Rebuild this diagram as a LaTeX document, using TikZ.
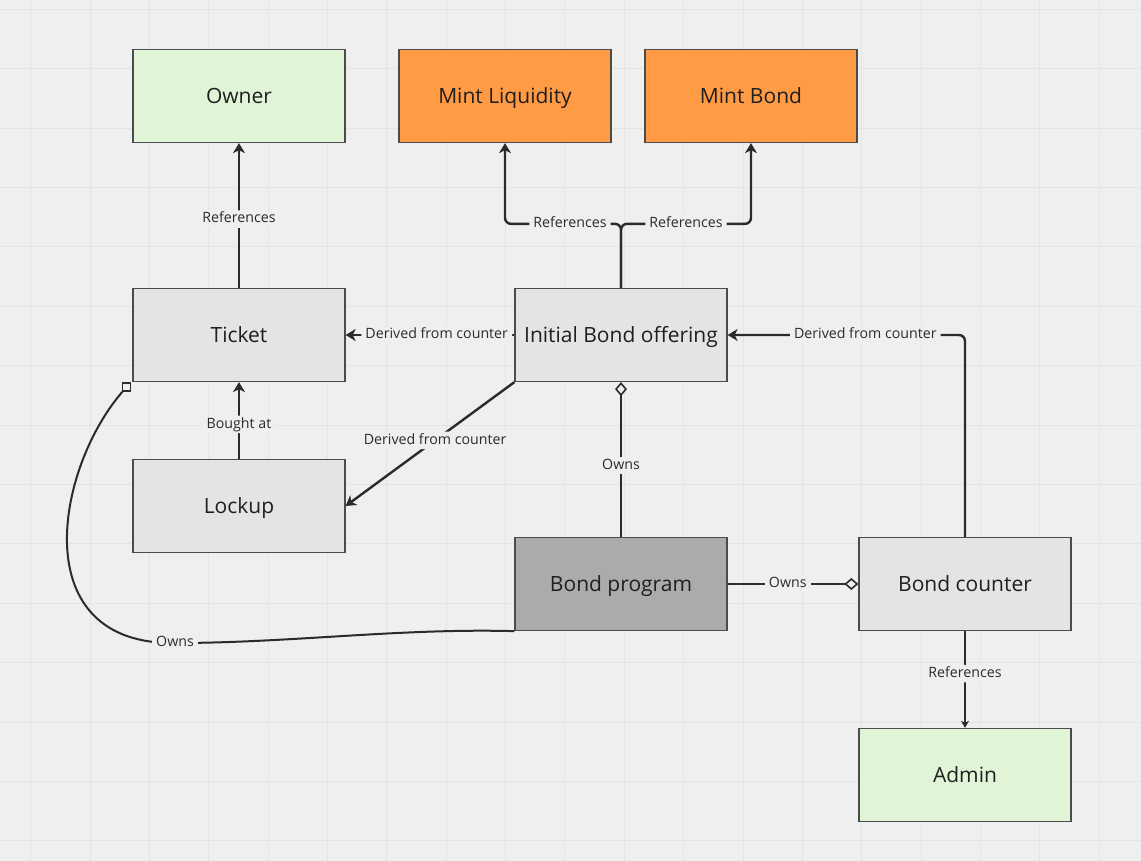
\documentclass[tikz,border=0pt]{standalone}
\usepackage{fontspec}
\setmainfont{Open Sans}
\usetikzlibrary{positioning}
\usetikzlibrary{arrows.meta}
\definecolor{bgcol}{HTML}{EFEFEF}
\definecolor{gridcol}{HTML}{E4E4E4}
\definecolor{linecol}{HTML}{2B2B2B}
\definecolor{boxgray}{HTML}{E5E3E4}
\definecolor{boxdark}{HTML}{ABABAB}
\definecolor{boxgreen}{HTML}{E0F5D8}
\definecolor{boxorange}{HTML}{FF9A45}
\tikzset{
box/.style={ % Entity boxes
draw=linecol!85,
line width=1.3pt,
minimum width=212pt,
minimum height=93pt,
text height=18pt, text depth=3.5pt,
font=\fontsize{21}{25}\selectfont,
text=black!88},
lbl/.style={ % Labels sitting on a connector
fill=bgcol,
inner xsep=4pt, inner ysep=2pt,
text height=10.5pt, text depth=3pt,
font=\fontsize{14.2}{17}\selectfont,
text=linecol},
ref/.style={ % Directed links with bold arrowheads
draw=linecol,
line width=2.4pt,
rounded corners=6pt,
-{Stealth[length=10pt,width=12pt,inset=3pt]}},
owns/.style={ % Ownership links end in an open diamond
draw=linecol,
line width=2.4pt,
-{Diamond[open,length=14pt,width=12pt,line width=1.6pt]}},
sqmark/.style={draw=linecol, fill=bgcol, line width=1.4pt,
minimum size=8pt, inner sep=0pt}
}

\begin{document}
\begin{tikzpicture}[x=1pt, y=-1pt]
    \useasboundingbox (0,0) rectangle (1141,861);
    \fill[bgcol] (0,0) rectangle (1141,861);
    \foreach \gx in {0,...,18}
      \draw[gridcol, line width=1pt] ({30.7+59.36*\gx},0) -- ++(0,861);
    \foreach \gy in {0,...,14}
      \draw[gridcol, line width=1pt] (0,{9.3+59.4*\gy}) -- ++(1141,0);

    \node[box, fill=boxgray] (ticket) at (239,335) {Ticket};
    \node[box, fill=boxgreen, above=144.7pt of ticket] (owner) {Owner};
    \node[box, fill=boxorange, right=52.7pt of owner] (mintliq) {Mint Liquidity};
    \node[box, fill=boxorange, right=32.7pt of mintliq] (mintbond) {Mint Bond};
    \node[box, fill=boxgray, below=76.7pt of ticket] (lockup) {Lockup};
    \node[box, fill=boxgray, right=168.7pt of ticket] (ibo) {Initial Bond offering};
    \node[box, fill=boxdark, below=154.7pt of ibo] (bprog) {Bond program};
    \node[box, fill=boxgray, right=130.7pt of bprog] (bcounter) {Bond counter};
    \node[box, fill=boxgreen, below=96.7pt of bcounter] (admin) {Admin};
    \node[sqmark, xshift=-6pt, yshift=-5pt] (tkmark) at (ticket.south west) {};

    \draw[ref] (ticket) -- node[lbl, pos=0.475] {References} (owner);
    \draw[ref] (ibo.north) -- ++(0,-64) -| node[lbl, pos=0.22] {References} (mintliq.south);
    \draw[ref] (ibo.north) -- ++(0,-64) -| node[lbl, pos=0.25] {References} (mintbond.south);
    \draw[ref] (ibo.west) -- node[lbl, pos=0.46] {Derived from counter} (ticket.east);
    \draw[ref] (ibo.south west) -- node[lbl, pos=0.47] {Derived from counter} (lockup.east);
    \draw[ref] (bcounter.north) |- node[lbl, pos=0.71] {Derived from counter} (ibo.east);
    \draw[ref] (lockup) -- node[lbl, pos=0.45] {Bought at} (ticket);
    \draw[owns] (bprog) -- node[lbl, pos=0.46] {Owns} (ibo);
    \draw[owns] (bprog) -- node[lbl, pos=0.46] {Owns} (bcounter);
    \draw[ref, line width=1.3pt, -{Stealth[length=7pt,width=8pt,inset=2pt]}]
      (bcounter) -- node[lbl, pos=0.44] {References} (admin);
    \draw[linecol, line width=2pt] (bprog.south west)
      .. controls (400,628) and (290,643) .. (175,643) node[lbl] {Owns}
      .. controls (25,645) and (55,470) .. (tkmark);
  \end{tikzpicture}
\end{document}
